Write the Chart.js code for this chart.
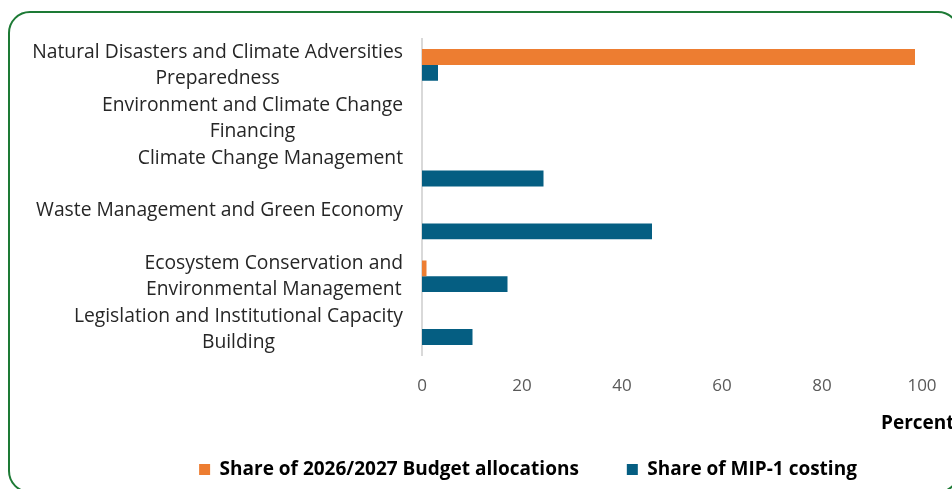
<!DOCTYPE html>
<html>
<head>
<meta charset="utf-8">
<script src="https://cdn.jsdelivr.net/npm/chart.js@4"></script>
<style>
  html, body { margin: 0; padding: 0; background: #fff; }
  #wrap { position: relative; width: 952px; height: 489px; overflow: hidden; }
  #frame {
    position: absolute; left: 8px; top: 11px; width: 948px; height: 478px;
    border: 2.5px solid #1d7a35; border-radius: 22px;
  }
  #budgetChart { position: absolute; left: 0; top: 0; }
</style>
</head>
<body>
<div id="wrap">
  <div id="frame"></div>
  <canvas id="budgetChart" width="1056" height="489"></canvas>
</div>
<script>
// Programme areas, top to bottom
const categories = [
  ["Natural Disasters and Climate Adversities", "Preparedness"],
  ["Environment and Climate Change", "Financing"],
  ["Climate Change Management"],
  ["Waste Management and Green Economy"],
  ["Ecosystem Conservation and", "Environmental Management"],
  ["Legislation and Institutional Capacity", "Building"]
];

// Percent shares per programme area
const budgetShare = [98.6, 0, 0, 0, 0.9, 0];
const mipShare = [3.2, 0, 24.3, 46, 17.1, 10.1];

const xTicks = [0, 20, 40, 60, 80, 100];

const labelFont = "19.3px 'Open Sans'";

// category labels: each block right-aligned to the axis, its lines centred
const categoryLabels = {
  id: "categoryLabels",
  afterDraw(chart) {
    const ctx = chart.ctx;
    const y = chart.scales.y;
    const right = y.right - 19;
    ctx.save();
    ctx.font = labelFont;
    ctx.fillStyle = "#262626";
    ctx.textAlign = "center";
    ctx.textBaseline = "middle";
    y.getLabels().forEach((lines, i) => {
      const w = Math.max(...lines.map(l => ctx.measureText(l).width));
      const cx = right - w / 2;
      const cy = y.getPixelForValue(i);
      lines.forEach((line, k) => ctx.fillText(line, cx, cy - 12.5 + k * 26));
    });
    // axis title sits to the right, under the last tick
    const x = chart.scales.x;
    ctx.font = "bold 19px 'Open Sans'";
    ctx.fillStyle = "#000";
    ctx.textAlign = "left";
    ctx.fillText("Percent", x.right - 41, 424);
    ctx.restore();
  }
};

const data = {
  labels: categories,
  datasets: [
    {
      label: "Share of 2026/2027 Budget allocations",
      data: budgetShare,
      backgroundColor: "#ED7D31",
      categoryPercentage: 0.6,
      barPercentage: 1.0
    },
    {
      label: "Share of MIP-1 costing",
      data: mipShare,
      backgroundColor: "#055E82",
      categoryPercentage: 0.6,
      barPercentage: 1.0
    }
  ]
};

const config = {
  type: "bar",
  data: data,
  options: {
    indexAxis: "y",
    responsive: false,
    animation: false,
    layout: { padding: { top: 38.5, bottom: 0, left: 0, right: 0 } },
    scales: {
      x: {
        min: 0,
        max: 100,
        afterBuildTicks: s => { s.ticks = xTicks.map(v => ({ value: v })); },
        grid: { display: false },
        border: { display: false },
        ticks: { font: { family: "Open Sans", size: 17 }, color: "#595959", padding: 12 },
        afterFit: s => { s.height = 56.5; }
      },
      y: {
        grid: { display: false },
        border: { display: true, color: "#d9d9d9", width: 2 },
        ticks: { display: false },
        afterFit: s => { s.width = 422; }
      },
      // keeps room on the right so the legend centres across the whole canvas
      spacer: {
        type: "category",
        position: "right",
        grid: { display: false },
        border: { display: false },
        ticks: { display: false },
        afterFit: s => { s.width = 134; }
      }
    },
    plugins: {
      legend: {
        position: "bottom",
        labels: {
          boxWidth: 11,
          boxHeight: 11,
          padding: 48,
          color: "#000",
          font: { family: "Open Sans", size: 19, weight: "bold" }
        }
      },
      tooltip: { enabled: false }
    }
  },
  plugins: [categoryLabels]
};

var budget = document.getElementById("budgetChart").getContext("2d");
var chart = new Chart(budget, config);
</script>
</body>
</html>
